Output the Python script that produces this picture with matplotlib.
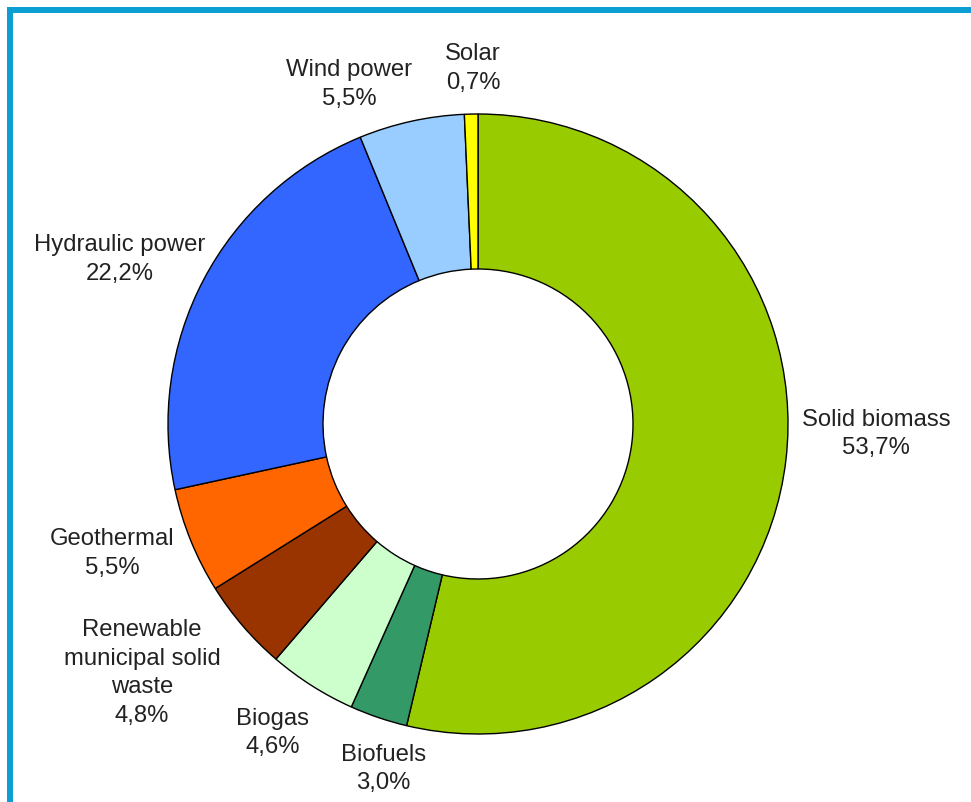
import matplotlib.pyplot as plt
from matplotlib.patches import Rectangle

# --- DATEN ---
LABELS = ["Solid biomass", "Biofuels", "Biogas", "Renewable\nmunicipal solid\nwaste",
          "Geothermal", "Hydraulic power", "Wind power", "Solar"]
WERTE = [53.7, 3.0, 4.6, 4.8, 5.5, 22.2, 5.5, 0.7]
FARBEN = ["#99CC00", "#339966", "#CCFFCC", "#993300",
          "#FF6600", "#3366FF", "#99CCFF", "#FFFF00"]

# Label-Positionen (in Radius-Einheiten, Mittelpunkt = 0,0)
LABEL_POS = [(1.284, -0.032), (-0.306, -1.113), (-0.663, -0.997), (-1.084, -0.803),
             (-1.179, -0.419), (-1.155, 0.531), (-0.416, 1.094), (-0.016, 1.148)]

# --- STYLE ---
W, H = 971, 802
CX, CY, R = 478, 424, 310
RAHMEN = "#0B9ED3"
plt.rcParams['font.family'] = ['Liberation Sans', 'DejaVu Sans']

fig = plt.figure(figsize=(W / 100, H / 100), dpi=100)
ax = fig.add_axes([0, 0, 1, 1])

ax.pie(WERTE, colors=FARBEN, startangle=90, counterclock=False, radius=1.0,
       wedgeprops=dict(width=0.5, edgecolor='black', linewidth=1.0))

# pie() setzt eigene Limits -> danach überschreiben
ax.set_xlim(-CX / R, (W - CX) / R)
ax.set_ylim(-(H - CY) / R, CY / R)
ax.set_aspect('equal')
ax.axis('off')

for lbl, val, (x, y) in zip(LABELS, WERTE, LABEL_POS):
    txt = f"{lbl}\n{val:.1f}%".replace(".", ",")
    ax.text(x, y, txt, ha='center', va='center', fontsize=17.2, color='#222222',
            linespacing=1.4)

# blauer Rahmen oben und links
fig.add_artist(Rectangle((7 / W, 0), 6 / W, (H - 7) / H, transform=fig.transFigure,
                         color=RAHMEN, lw=0))
fig.add_artist(Rectangle((7 / W, (H - 13) / H), (W - 7) / W, 6 / H, transform=fig.transFigure,
                         color=RAHMEN, lw=0))

plt.savefig("out.png", dpi=100)
plt.close()
